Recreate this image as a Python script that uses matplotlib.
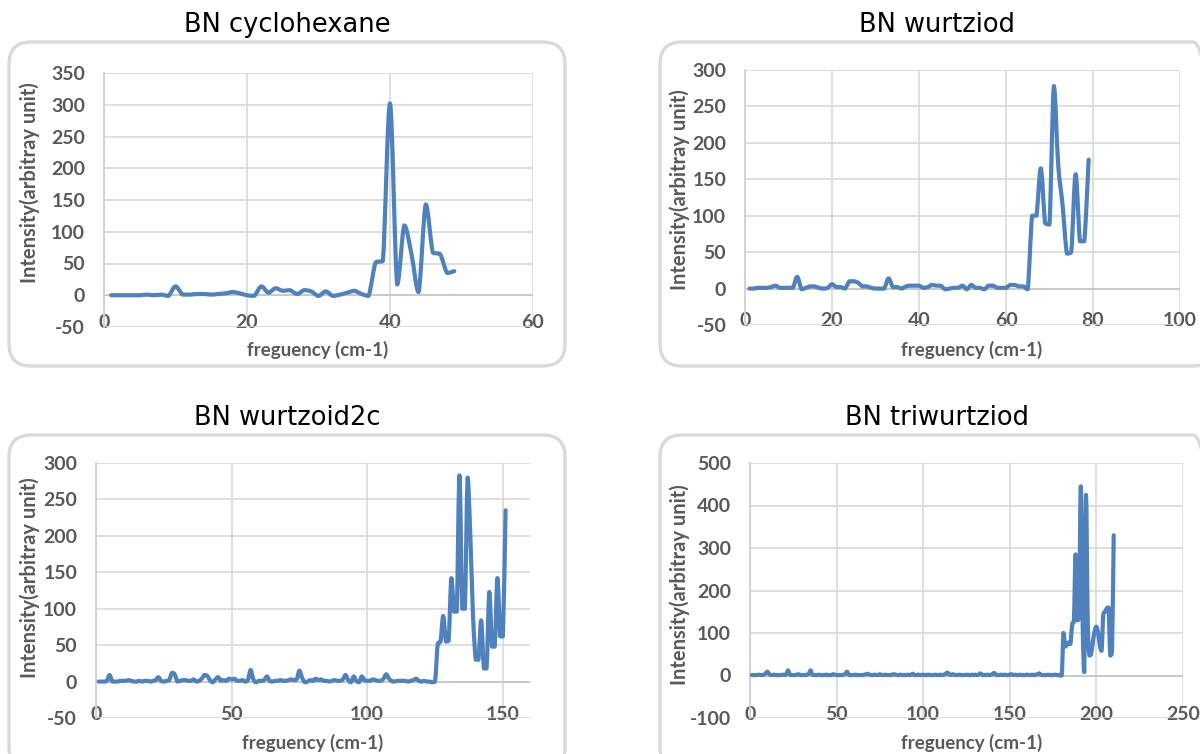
import numpy as np
import matplotlib
matplotlib.use("Agg")
import matplotlib.pyplot as plt
from matplotlib.patches import FancyBboxPatch, PathPatch
from matplotlib.path import Path

plt.rcParams["axes.unicode_minus"] = False

W, H = 1200, 754

# ---- data ----
cyclo_freq = list(range(1, 50))
cyclo_int = [0, 0, 0, 0, 0, 1, 0, 1, -1, 14,
             1, 1, 2, 2, 1, 2, 3, 5, 3, 0,
             -1, 14, 4, 11, 7, 8, 2, 8, 6, -1,
             6, -1, 1, 4, 7, 2, -1, 52, 54, 302,
             17, 110, 65, 5, 143, 67, 65, 35, 38]

wurtz_freq = list(range(1, 80))
wurtz_int = [0, 0, 1, 1, 1, 2, 4, 1, 1, 1,
             1, 16, -1, 1, 3, 3, 1, 0, 1, 6,
             2, 2, 0, 10, 10, 8, 3, 3, 1, 0,
             0, 0, 14, 2, 2, 0, 3, 4, 4, 4,
             1, 2, 5, 4, 4, -1, 0, 1, 1, 4,
             -1, 5, 1, 1, -1, 4, 4, 1, 1, 1,
             5, 5, 3, 3, -1, 100, 100, 165, 90, 88,
             278, 170, 115, 48, 50, 157, 65, 65, 177]

wurtz2c_freq = list(range(1, 152))
wurtz2c_int = [0, 0, 0, 1, 9, 0, 0, 0, 1, 1,
               1, 2, 1, 0, 0, 1, 0, 1, 1, 0,
               1, 2, 6, 1, 0, 1, 2, 12, 10, 0,
               1, 2, 2, 1, 1, 3, 0, 1, 4, 9,
               8, 2, -1, 3, 6, 1, 2, 1, 4, 3,
               4, 1, 1, 2, 0, 2, 16, 3, -1, 1,
               1, 2, 7, 1, 0, 1, 1, 2, 1, 1,
               2, 3, 2, 3, 15, 5, -1, 0, 2, 1,
               4, 2, 3, 1, 1, 0, 1, 2, 1, 1,
               3, 9, 2, -1, 7, 1, -1, 7, 2, 1,
               1, 3, 2, 1, 1, 4, 10, 4, 1, 0,
               1, 1, 1, 1, 0, 1, 2, 4, 1, 0,
               1, 0, 0, -1, 0, 52, 55, 90, 55, 56,
               142, 96, 96, 283, 100, 100, 280, 200, 90, 30,
               30, 84, 18, 18, 123, 48, 48, 142, 62, 62,
               235]

triwurtz_freq = list(range(1, 211))
triwurtz_int = [1, 1, 1, 1, 2, 1, 1, 2, 5, 9,
                4, 1, 1, 2, 1, 1, 1, 1, 2, 1,
                4, 12, 2, 1, 1, 1, 2, 3, 1, 1,
                1, 1, 2, 5, 12, 2, 1, 1, 1, 2,
                1, 1, 1, 2, 1, 1, 1, 3, 2, 1,
                1, 1, 1, 2, 4, 9, 2, 1, 1, 1,
                2, 1, 1, 1, 1, 2, 3, 4, 2, 1,
                1, 2, 1, 1, 3, 1, 1, 2, 1, 1,
                1, 2, 3, 2, 1, 1, 2, 1, 1, 1,
                2, 1, 2, 4, 1, 1, 2, 1, 1, 2,
                1, 1, 2, 1, 1, 1, 2, 1, 1, 2,
                1, 2, 4, 7, 3, 1, 3, 2, 1, 1,
                2, 1, 1, 1, 2, 1, 1, 2, 1, 2,
                1, 2, 5, 2, 1, 1, 2, 1, 2, 3,
                6, 2, 1, 1, 2, 1, 2, 1, 1, 2,
                3, 1, 2, 1, 1, 2, 1, 1, 1, 2,
                1, 1, 2, 1, 2, 3, 5, 2, 1, 1,
                1, 2, 1, 1, 1, 2, 1, 1, 0, 0,
                100, 68, 72, 78, 74, 120, 128, 285, 130, 135,
                445, 135, 8, 425, 130, 47, 52, 80, 105, 115,
                100, 70, 58, 145, 150, 158, 160, 47, 55, 330]

LINE = "#4f81bd"
GRID = "#d9d9d9"
TXT = "#595959"
FONT = "Lato"

fig = plt.figure(figsize=(W / 100, H / 100), dpi=100)


def frame(x0, y0, x1, y1):
    box = FancyBboxPatch((x0 / W, 1 - y1 / H), (x1 - x0) / W, (y1 - y0) / H,
                         boxstyle=f"round,pad=0,rounding_size={22 / W}",
                         mutation_aspect=W / H, transform=fig.transFigure,
                         fill=False, ec=GRID, lw=2.4)
    fig.patches.append(box)


def smooth_line(ax, xs, ys, k=1 / 6):
    # excel-like smoothed line: bezier through the points, control points
    # kept inside each segment's y range so plateaus don't overshoot
    p = np.column_stack([xs, ys]).astype(float)
    verts = [p[0]]
    codes = [Path.MOVETO]
    n = len(p)
    for i in range(n - 1):
        a, b = p[i], p[i + 1]
        p0 = p[i - 1] if i > 0 else a
        p3 = p[i + 2] if i + 2 < n else b
        c1 = a + (b - p0) * k
        c2 = b - (p3 - a) * k
        lo, hi = min(a[1], b[1]), max(a[1], b[1])
        c1[1] = min(max(c1[1], lo), hi)
        c2[1] = min(max(c2[1], lo), hi)
        verts += [c1, c2, b]
        codes += [Path.CURVE4] * 3
    patch = PathPatch(Path(verts, codes), fill=False, ec=LINE, lw=3,
                      joinstyle="round", capstyle="round", zorder=3,
                      transform=ax.transData)
    ax.add_patch(patch)


def panel(x0, y0, x1, y1, xs, ys, xmax, xstep, ymin, ymax, ystep):
    ax = fig.add_axes([x0 / W, 1 - y1 / H, (x1 - x0) / W, (y1 - y0) / H])
    smooth_line(ax, xs, ys)
    ax.set_xlim(0, xmax)
    ax.set_ylim(ymin, ymax)
    ax.set_xticks(np.arange(0, xmax + 1, xstep))
    ax.set_yticks(np.arange(ymin, ymax + 1, ystep))
    ax.grid(color=GRID, lw=1.2)
    ax.set_axisbelow(True)
    ax.axhline(0, color="#c8c8c8", lw=1.3, zorder=2)
    for s in ["top", "right", "bottom"]:
        ax.spines[s].set_visible(False)
    ax.spines["left"].set_color("#d0d0d0")
    ax.spines["left"].set_linewidth(1.3)
    ax.tick_params(length=0, labelsize=14, labelcolor=TXT)
    ax.tick_params(axis="y", pad=13.5)
    ax.tick_params(axis="x", pad=-9)
    for lab in ax.get_xticklabels() + ax.get_yticklabels():
        lab.set_fontfamily(FONT)
        lab.set_fontweight("bold")
    return ax


def txt(x, y, s, **kw):
    fig.text(x / W, 1 - y / H, s, ha="center", va="center", **kw)


# frames
frame(9, 42, 565, 366)
frame(660, 42, 1215, 366)
frame(9, 435, 565, 770)
frame(660, 435, 1215, 770)

panel(104, 73, 533, 327, cyclo_freq, cyclo_int, 60, 20, -50, 350, 50)
panel(745, 70, 1180, 325, wurtz_freq, wurtz_int, 100, 20, -50, 300, 50)
panel(96, 463, 530, 718, wurtz2c_freq, wurtz2c_int, 160, 50, -50, 300, 50)
panel(750, 463, 1183, 718, triwurtz_freq, triwurtz_int, 250, 50, -100, 500, 100)

titles = ["BN cyclohexane", "BN wurtziod", "BN wurtzoid2c", "BN triwurtziod"]
title_pos = [(287, 25), (937, 25), (287, 418), (937, 418)]
for t, (x, y) in zip(titles, title_pos):
    txt(x, y, t, fontsize=18.5, family="DejaVu Sans", color="black")

xlab_pos = [(318, 350), (972, 350), (313, 743), (972, 743)]
for x, y in xlab_pos:
    txt(x, y, "freguency (cm-1)", fontsize=13.5, family=FONT, fontweight="bold", color=TXT)

ylab_pos = [(30, 183), (680, 190), (30, 578), (680, 585)]
for x, y in ylab_pos:
    txt(x, y, "Intensity(arbitray unit)", fontsize=14.5, family=FONT, fontweight="bold",
        color=TXT, rotation=90)

fig.savefig("out.png", dpi=100)
